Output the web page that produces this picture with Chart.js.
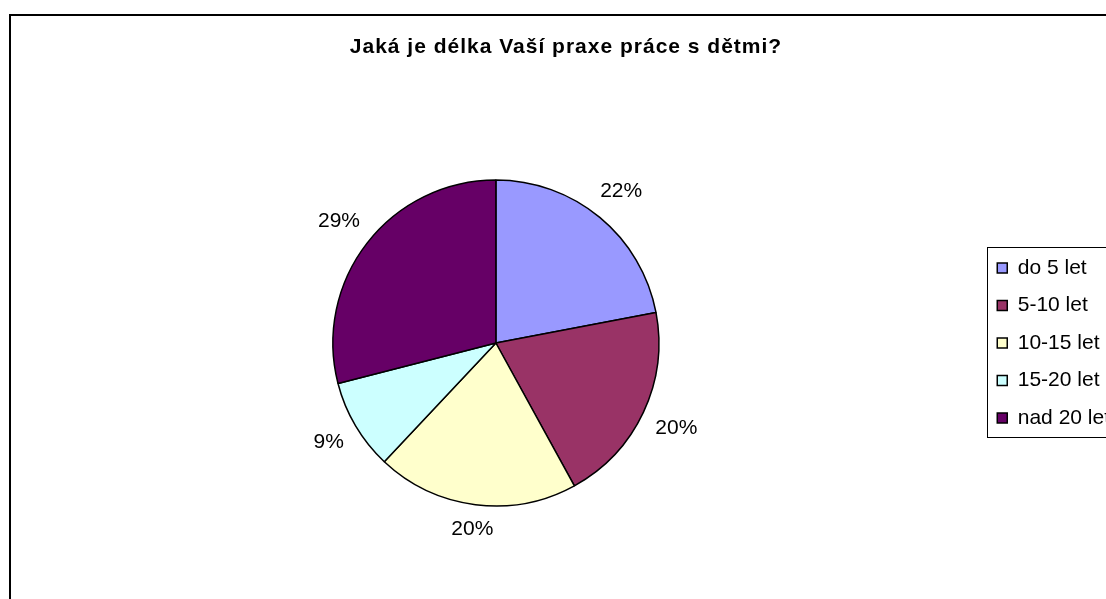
<!DOCTYPE html>
<html>
<head>
<meta charset="utf-8">
<script src="https://cdn.jsdelivr.net/npm/chart.js@4.4.1/dist/chart.umd.min.js"></script>
<style>
  html, body { margin: 0; padding: 0; overflow: hidden; background: #fff; }
  #frame { position: absolute; left: 9px; top: 14px; border-left: 2px solid #000; border-top: 2px solid #000; }
  #frame canvas { display: block; }
</style>
</head>
<body>
<div id="frame"><canvas id="praxeChart" width="1110" height="600"></canvas></div>
<script>
// data
const chartTitle = 'Jaká je délka Vaší praxe práce s dětmi?';
const categories = ['do 5 let', '5-10 let', '10-15 let', '15-20 let', 'nad 20 let'];
const shares = [22, 20, 20, 9, 29];
const sliceColors = ['#9999FF', '#993366', '#FFFFCC', '#CCFFFF', '#660066'];

const fontFamily = '"Liberation Sans", Arial, sans-serif';
Chart.defaults.font.family = fontFamily;
Chart.defaults.color = '#000';

// title drawn by hand so it can get the slightly wide letter spacing
const titlePlugin = {
    id: 'wideTitle',
    afterDraw(chart) {
        const ctx = chart.ctx;
        ctx.save();
        ctx.font = 'bold 21px ' + fontFamily;
        ctx.letterSpacing = '1px';
        ctx.fillStyle = '#000';
        ctx.textAlign = 'center';
        ctx.textBaseline = 'alphabetic';
        ctx.fillText(chartTitle, chart.width / 2, 37);
        ctx.restore();
    }
};

// percentage labels outside each slice
const percentLabels = {
    id: 'percentLabels',
    afterDatasetsDraw(chart) {
        const ctx = chart.ctx;
        const meta = chart.getDatasetMeta(0);
        const data = chart.data.datasets[0].data;
        const total = data.reduce((a, b) => a + b, 0);
        ctx.save();
        ctx.font = '21px ' + fontFamily;
        ctx.fillStyle = '#000';
        ctx.textAlign = 'center';
        ctx.textBaseline = 'middle';
        meta.data.forEach(function(arc, i) {
            const p = arc.getProps(['x', 'y', 'startAngle', 'endAngle', 'outerRadius'], true);
            const mid = (p.startAngle + p.endAngle) / 2;
            const text = Math.round(data[i] / total * 100) + '%';
            const w = ctx.measureText(text).width;
            const ext = Math.abs(Math.cos(mid)) * w / 2 + Math.abs(Math.sin(mid)) * 8;
            const dist = p.outerRadius + 14 + ext;
            ctx.fillText(text, p.x + Math.cos(mid) * dist, p.y + Math.sin(mid) * dist);
        });
        ctx.restore();
    }
};

// box around the legend like in Excel
const legendFrame = {
    id: 'legendFrame',
    afterDraw(chart) {
        const boxes = chart.legend.legendHitBoxes;
        if (!boxes || !boxes.length) return;
        const first = boxes[0];
        const last = boxes[boxes.length - 1];
        const right = Math.max(...boxes.map(b => b.left + b.width));
        const ctx = chart.ctx;
        ctx.save();
        ctx.strokeStyle = '#000';
        ctx.lineWidth = 1;
        const x = Math.round(first.left - 10) + 0.5;
        const y = Math.round(first.top - 11) + 0.5;
        ctx.strokeRect(x, y, right + 10 - x, last.top + last.height + 9 - y);
        ctx.restore();
    }
};

const ctx = document.getElementById('praxeChart').getContext('2d');

new Chart(ctx, {
    type: 'pie',
    data: {
        labels: categories,
        datasets: [{
            data: shares,
            backgroundColor: sliceColors,
            borderColor: '#000',
            borderWidth: 1.5
        }]
    },
    options: {
        responsive: false,
        animation: false,
        radius: 163,
        layout: {
            padding: { top: 54, bottom: 0, left: 0, right: 1 }
        },
        plugins: {
            title: { display: false },
            tooltip: { enabled: false },
            legend: {
                position: 'right',
                labels: {
                    font: { size: 21 },
                    color: '#000',
                    boxWidth: 10,
                    boxHeight: 10,
                    padding: 16.5
                }
            }
        }
    },
    plugins: [titlePlugin, percentLabels, legendFrame]
});
</script>
</body>
</html>
